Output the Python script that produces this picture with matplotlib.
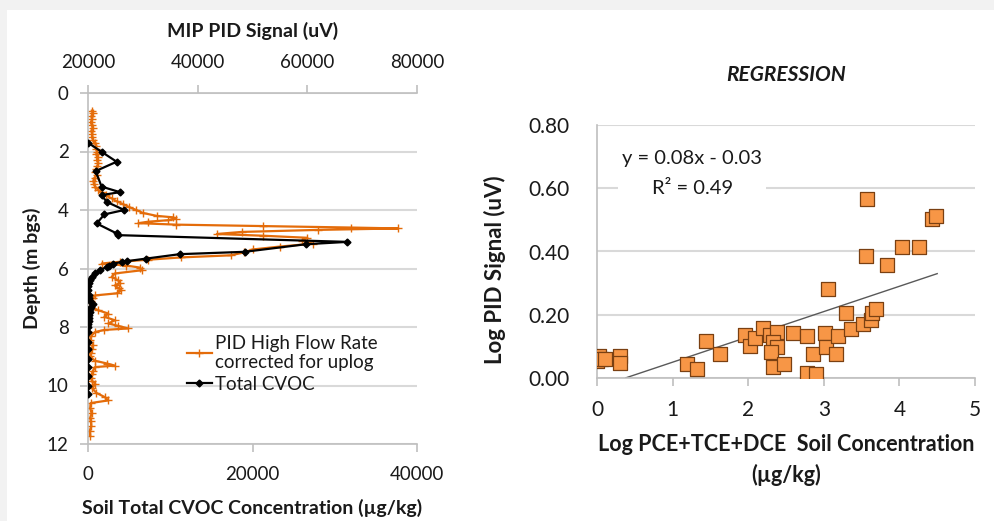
import numpy as np
import matplotlib
matplotlib.use("Agg")
import matplotlib.pyplot as plt
from matplotlib.patches import Rectangle
from matplotlib.lines import Line2D

plt.rcParams['font.family'] = ['Lato', 'DejaVu Sans']

# MIP PID profile (depth m bgs, signal uV)
pid_depth = [0.60, 0.70, 0.80, 0.90, 1.00, 1.10, 1.20, 1.30, 1.40, 1.50, 1.60, 1.70, 1.80, 1.90,
             2.00, 2.10, 2.20, 2.30, 2.40, 2.50, 2.60, 2.70, 2.80, 2.90, 3.00, 3.10, 3.20, 3.30,
             3.40, 3.50, 3.60, 3.70, 3.80, 3.90, 4.00, 4.10, 4.20, 4.25, 4.30, 4.35, 4.40, 4.45,
             4.50, 4.55, 4.60, 4.63, 4.68, 4.75, 4.82, 4.88, 4.95, 5.05, 5.15, 5.25, 5.35, 5.45,
             5.55, 5.62, 5.70, 5.77, 5.83, 5.90, 5.97, 6.06, 6.17, 6.29, 6.40, 6.50, 6.58, 6.68,
             6.75, 6.85, 6.92, 7.00, 7.10, 7.20, 7.30, 7.43, 7.54, 7.65, 7.77, 7.88, 7.96, 8.05,
             8.10, 8.17, 8.30, 8.45, 8.60, 8.74, 8.90, 9.00, 9.15, 9.25, 9.32, 9.37, 9.50, 9.60,
             9.75, 9.85, 9.94, 10.10, 10.25, 10.40, 10.51, 10.60, 10.78, 10.95, 11.10, 11.20,
             11.40, 11.55, 11.72]
pid_signal = [20700, 20900, 20600, 20800, 20500, 20700, 20900, 20600, 20800, 20700, 20900, 21200,
              21500, 21400, 21700, 21500, 21800, 21600, 21900, 21700, 21500, 21300, 21600, 21200,
              21000, 21100, 21300, 21800, 22500, 23200, 24300, 25200, 26400, 27500, 28800, 30000,
              32500, 35500, 36000, 34500, 31000, 29200, 36000, 52000, 68000, 76500, 62000, 48000,
              43500, 52000, 60000, 59000, 61000, 55000, 50000, 48500, 46000, 37000, 31000, 25800,
              22500, 27000, 29500, 29800, 24900, 24300, 25500, 25800, 24900, 25600, 26100, 25200,
              21300, 20900, 20600, 20700, 20400, 21900, 23700, 23000, 24900, 23700, 25500, 27300,
              23000, 21300, 20600, 20400, 20900, 20700, 20500, 20400, 21200, 23500, 24900, 21300,
              20900, 20700, 20500, 20800, 21300, 20800, 21500, 23100, 23700, 20500, 20400, 20700,
              20400, 20500, 20600, 20300, 20400]

# soil total CVOC (depth m bgs, ug/kg)
cvoc_depth = [1.70, 2.01, 2.35, 2.67, 3.20, 3.39, 3.49, 3.72, 4.00, 4.15, 4.46, 4.80, 4.86,
              5.09, 5.17, 5.43, 5.51, 5.66, 5.75, 5.78, 5.83, 5.90, 5.95, 6.05, 6.17, 6.28,
              6.40, 6.50, 6.60, 6.75, 6.90, 7.00, 7.10, 7.20, 7.30, 7.40, 7.50, 7.60, 7.70,
              7.80, 7.90, 8.00, 8.17, 8.52, 8.74, 9.09, 9.37, 9.66, 10.00, 10.30]
cvoc_conc = [0, 1650, 3480, 930, 1650, 3880, 1650, 2260, 4400, 2000, 1050, 3480, 3700,
             31550, 26500, 19030, 11150, 7110, 4690, 4080, 3070, 2600, 2260, 1500, 850, 500,
             240, 100, 50, 40, 100, 150, 300, 650, 400, 250, 200, 150, 100,
             80, 50, 40, 20, 0, 0, 0, 0, 0, 0, 0]

# log-log regression points
log_conc = [0.00, 0.03, 0.05, 0.10, 0.30, 0.30, 1.19, 1.32, 1.44, 1.63, 1.96, 2.02, 2.09,
            2.20, 2.29, 2.38, 2.33, 2.38, 2.30, 2.33, 2.47, 2.59, 2.78, 2.78, 2.90, 2.86,
            3.02, 3.03, 3.05, 3.16, 3.19, 3.30, 3.36, 3.52, 3.62, 3.64, 3.69, 3.56, 3.84,
            3.57, 4.03, 4.26, 4.43, 4.48]
log_pid = [0.055, 0.070, 0.060, 0.060, 0.070, 0.048, 0.044, 0.028, 0.117, 0.076, 0.136, 0.100,
           0.126, 0.158, 0.136, 0.146, 0.114, 0.098, 0.082, 0.035, 0.044, 0.142, 0.133, 0.016,
           0.013, 0.076, 0.142, 0.098, 0.282, 0.076, 0.133, 0.205, 0.155, 0.171, 0.183, 0.205,
           0.218, 0.386, 0.358, 0.566, 0.415, 0.415, 0.503, 0.513]
slope, intercept = 0.08, -0.03
r_squared = 0.49
fit_range = [0.38, 4.5]

W, H = 995, 521
ORANGE = "#E46C0A"
GRID = "#d9d9d9"
SPINE = "#bfbfbf"
TXT = "#1a1a1a"


def px_axes(fig, x0, y0, x1, y1):
    return fig.add_axes([x0 / W, 1 - y1 / H, (x1 - x0) / W, (y1 - y0) / H])


fig = plt.figure(figsize=(W / 100, H / 100), dpi=100, facecolor="#f2f2f2")
fig.patches.append(Rectangle((7 / W, 0), 1, 1 - 10 / H, transform=fig.transFigure,
                             facecolor="white", edgecolor="none", zorder=-10))

# ---- depth profile ----
ax = px_axes(fig, 88, 93, 417, 444)
ax.patch.set_alpha(0)
ax.plot(pid_signal, pid_depth, color=ORANGE, lw=1.6, marker="+", ms=6, mew=1.0)
ax.set_xlim(20000, 80000)
ax.set_ylim(12, 0)
ax.set_yticks(range(0, 13, 2))
ax.set_xticks([20000, 40000, 60000, 80000])
ax.set_ylabel("Depth (m bgs)", fontsize=14, fontweight="bold", labelpad=4, color=TXT)
ax.grid(axis="y", color=GRID, lw=1.5)
ax.set_axisbelow(True)

ax2 = ax.twiny()
ax2.plot(cvoc_conc, cvoc_depth, color="black", lw=1.6, marker="D", ms=3.5)
ax2.set_xlim(0, 40000)
ax2.xaxis.set_ticks_position("bottom")
ax2.xaxis.set_label_position("bottom")
ax2.set_xticks([0, 20000, 40000])
ax2.set_xlabel("Soil Total CVOC Concentration (\u00b5g/kg)", fontsize=14,
               fontweight="bold", labelpad=11, color=TXT)

# twiny moves the primary ticks to the bottom, so put them back on top
ax.xaxis.set_ticks_position("top")
ax.xaxis.set_label_position("top")
ax.set_xlabel("MIP PID Signal (uV)", fontsize=14, fontweight="bold", labelpad=12, color=TXT)

for a in (ax, ax2):
    for s in a.spines.values():
        s.set_visible(False)
    a.tick_params(colors=SPINE, labelcolor=TXT, labelsize=13.5, length=6, width=1.2)
ax.spines["top"].set_visible(True)
ax.spines["left"].set_visible(True)
ax2.spines["bottom"].set_visible(True)
for s in (ax.spines["top"], ax.spines["left"], ax2.spines["bottom"]):
    s.set_color(SPINE)
    s.set_linewidth(1.2)
ax.tick_params(axis="x", pad=10)
ax.tick_params(axis="y", pad=8)
ax2.tick_params(axis="x", pad=10)

handles = [Line2D([], [], color=ORANGE, lw=1.6, marker="+", ms=6),
           Line2D([], [], color="black", lw=1.6, marker="D", ms=3.5)]
ax2.legend(handles, ["PID High Flow Rate\ncorrected for uplog", "Total CVOC"],
           loc="upper left", bbox_to_anchor=(0.25, 0.36), frameon=False,
           fontsize=13.5, handlelength=1.3, handletextpad=0.2, labelspacing=0.25,
           labelcolor=TXT)

# ---- regression ----
bx = px_axes(fig, 597, 125, 975, 378)
bx.scatter(log_conc, log_pid, marker="s", s=95, facecolor="#F79646",
           edgecolor="#7a4012", linewidth=0.9, zorder=3)
fx = np.array(fit_range)
bx.plot(fx, slope * fx + intercept, color="#595959", lw=1.0, zorder=2)
bx.set_xlim(0, 5)
bx.set_ylim(0, 0.8)
bx.set_yticks([0, 0.2, 0.4, 0.6, 0.8])
bx.set_yticklabels([f"{v:.2f}" for v in [0, 0.2, 0.4, 0.6, 0.8]])
bx.grid(axis="y", color=GRID, lw=1.5)
bx.set_axisbelow(True)
for s in bx.spines.values():
    s.set_visible(False)
bx.spines["left"].set_visible(True)
bx.spines["bottom"].set_visible(True)
for s in (bx.spines["left"], bx.spines["bottom"]):
    s.set_color(SPINE)
    s.set_linewidth(1.2)
bx.tick_params(axis="y", length=0, pad=20, labelsize=15, labelcolor=TXT)
bx.tick_params(axis="x", colors=SPINE, labelcolor=TXT, labelsize=15, length=6,
               width=1.2, pad=10)
bx.set_title("REGRESSION", fontsize=15, fontweight="bold", style="italic",
             pad=32, color=TXT)
bx.set_ylabel("Log PID Signal (uV)", fontsize=16, fontweight="bold", color=TXT)
bx.yaxis.set_label_coords(-0.24, 0.43)
bx.set_xlabel("Log PCE+TCE+DCE  Soil Concentration\n(\u00b5g/kg)", fontsize=15.5,
              fontweight="bold", labelpad=10, color=TXT, linespacing=1.5)
bx.text(1.26, 0.647, f"y = {slope:.2f}x - {abs(intercept):.2f}\nR\u00b2 = {r_squared:.2f}",
        fontsize=14.5, color=TXT, ha="center", va="center", multialignment="center",
        linespacing=1.95, bbox=dict(facecolor="white", edgecolor="none", pad=3))

fig.savefig("out.png", dpi=100, facecolor=fig.get_facecolor())
